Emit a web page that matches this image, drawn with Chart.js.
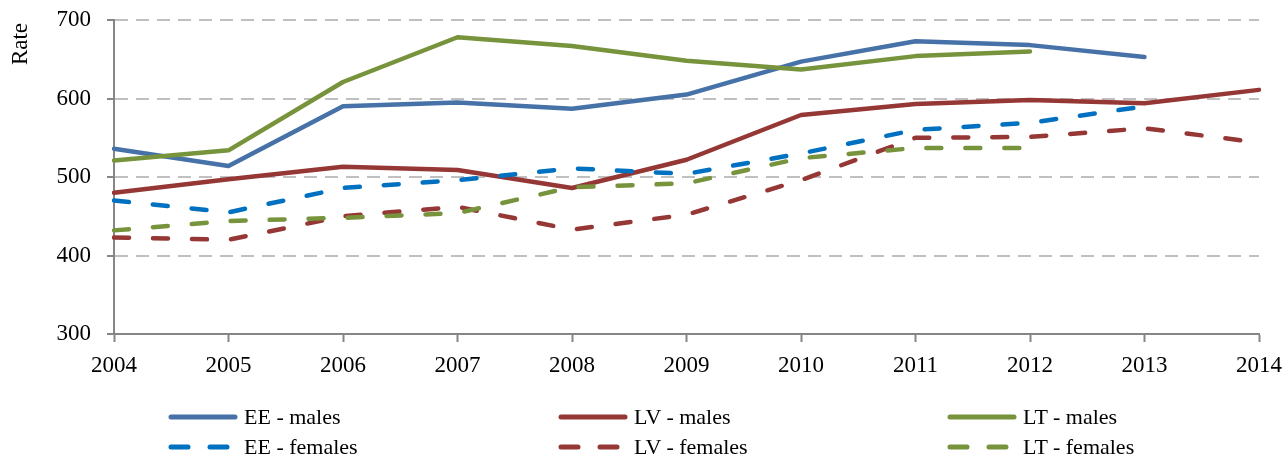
<!DOCTYPE html>
<html>
<head>
<meta charset="utf-8">
<script src="https://cdn.jsdelivr.net/npm/chart.js@4/dist/chart.umd.min.js"></script>
<style>
    html, body { margin: 0; padding: 0; background: #fff; }
    #wrap { position: relative; width: 1286px; height: 458px; }
    #legend { position: absolute; left: 0; top: 0; width: 1286px; height: 458px; pointer-events: none;
        font-family: 'Liberation Serif', 'Times New Roman', serif; font-size: 22px; color: #000; }
    .item { position: absolute; display: flex; align-items: center; height: 30px; white-space: nowrap; }
    .item svg { margin-right: 6px; }
</style>
</head>
<body>
<div id="wrap">
    <canvas id="rateChart" width="1286" height="458"></canvas>
    <div id="legend"></div>
</div>
<script>
const years = ['2004', '2005', '2006', '2007', '2008', '2009', '2010', '2011', '2012', '2013', '2014'];
const yTicks = [300, 400, 500, 600, 700];

const eeMales = [536, 514, 590, 595, 587, 605, 647, 673, 668, 653];
const lvMales = [480, 497, 513, 509, 486, 522, 579, 593, 598, 594, 611];
const ltMales = [521, 534, 621, 678, 667, 648, 637, 654, 660];
const eeFemales = [470, 455, 486, 496, 511, 504, 530, 560, 569, 590];
const lvFemales = [423, 420, 450, 462, 433, 452, 496, 550, 551, 562, 544];
const ltFemales = [432, 444, 448, 454, 487, 492, 524, 537, 537];

const seriesNames = ['EE - males', 'LV - males', 'LT - males', 'EE - females', 'LV - females', 'LT - females'];
const seriesData = [eeMales, lvMales, ltMales, eeFemales, lvFemales, ltFemales];
const seriesColors = ['#4672a8', '#953735', '#77933c', '#0070c0', '#953735', '#77933c'];
const seriesDashed = [false, false, false, true, true, true];

const FONT = "'Liberation Serif', 'Times New Roman', serif";
const AXIS = '#868686';

// y axis title sits near the top of the axis, drawn by hand
const yTitle = {
    id: 'yTitle',
    afterDraw(chart) {
        const ctx = chart.ctx;
        ctx.save();
        ctx.translate(21, 44);
        ctx.rotate(-Math.PI / 2);
        ctx.font = '23px ' + FONT;
        ctx.fillStyle = '#000';
        ctx.textAlign = 'center';
        ctx.textBaseline = 'middle';
        ctx.fillText('Rate', 0, 0);
        ctx.restore();
    }
};

const datasets = seriesNames.map((name, i) => ({
    label: name,
    data: seriesData[i],
    borderColor: seriesColors[i],
    backgroundColor: seriesColors[i],
    borderWidth: 4.5,
    borderDash: seriesDashed[i] ? [15, 24] : [],
    borderCapStyle: 'round',
    borderJoinStyle: 'round',
    pointRadius: 0,
    tension: 0,
    fill: false,
    order: seriesNames.length - i
}));

new Chart(document.getElementById('rateChart'), {
    type: 'line',
    data: { labels: years, datasets: datasets },
    options: {
        responsive: false,
        animation: false,
        layout: { padding: { top: 20, right: 27, left: 0, bottom: 0 } },
        plugins: { legend: { display: false }, tooltip: { enabled: false } },
        scales: {
            x: {
                offset: false,
                afterFit: (s) => { s.height = 124; s.paddingLeft = 0; s.paddingRight = 0; },
                border: { color: AXIS, width: 2 },
                grid: { drawOnChartArea: false, drawTicks: true, tickLength: 8, tickColor: AXIS, tickWidth: 2 },
                ticks: { color: '#000', font: { family: FONT, size: 23 }, padding: 10, maxRotation: 0, autoSkip: false }
            },
            y: {
                min: 300,
                max: 700,
                afterFit: (s) => { s.width = 114; s.paddingTop = 0; s.paddingBottom = 0; },
                afterBuildTicks: (s) => { s.ticks = yTicks.map(v => ({ value: v })); },
                border: { color: AXIS, width: 2, dash: [13, 8] },
                grid: {
                    color: '#c0c0c0', lineWidth: 2,
                    tickLength: 7, tickColor: AXIS, tickWidth: 2, tickBorderDash: []
                },
                ticks: { color: '#000', font: { family: FONT, size: 23 }, padding: 16 }
            }
        }
    },
    plugins: [yTitle]
});

// legend laid out in three columns like the original
const legend = document.getElementById('legend');
const colX = [168, 558, 947];
const rowY = [402, 432];
seriesNames.forEach((name, i) => {
    const item = document.createElement('div');
    item.className = 'item';
    item.style.left = colX[i % 3] + 'px';
    item.style.top = rowY[Math.floor(i / 3)] + 'px';
    const dash = seriesDashed[i] ? ' stroke-dasharray="17 22"' : '';
    item.innerHTML = '<svg width="70" height="10"><line x1="3" y1="5" x2="67" y2="5" stroke="' + seriesColors[i] +
        '" stroke-width="5" stroke-linecap="round"' + dash + '/></svg><span>' + name + '</span>';
    legend.appendChild(item);
});
</script>
</body>
</html>
